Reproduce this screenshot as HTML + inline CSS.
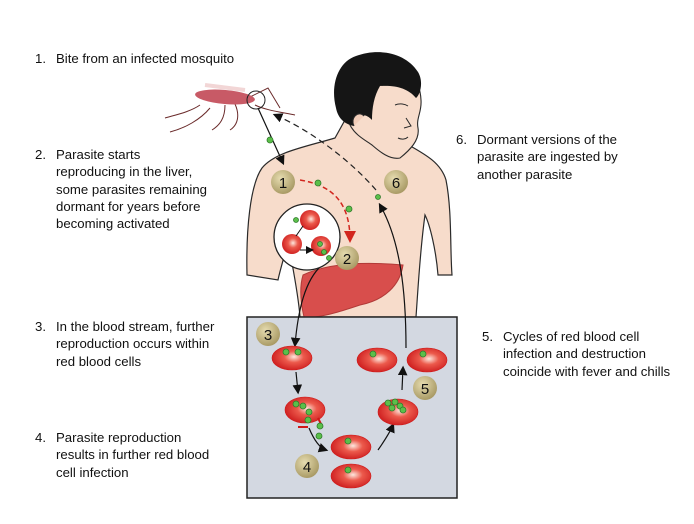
<!DOCTYPE html>
<html><head><meta charset="utf-8"><style>
body{margin:0;width:694px;height:524px;background:#fff;position:relative;overflow:hidden;font-family:"Liberation Sans",sans-serif;font-size:13.2px;color:#111}
.t{position:absolute;line-height:17.3px;white-space:nowrap}
.n{position:absolute;left:-21px}
svg{position:absolute;left:0;top:0}
</style></head><body>
<svg width="694" height="524" viewBox="0 0 694 524">
<defs>
<radialGradient id="rbc" cx="0.55" cy="0.45" r="0.6"><stop offset="0" stop-color="#fde8de"/><stop offset="0.4" stop-color="#ec5a4c"/><stop offset="1" stop-color="#cc1a1c"/></radialGradient>
<radialGradient id="bdg" cx="0.4" cy="0.35" r="0.7"><stop offset="0" stop-color="#e6dcb0"/><stop offset="1" stop-color="#a59660"/></radialGradient>
<marker id="ah" markerWidth="8" markerHeight="8" refX="6" refY="4" orient="auto"><path d="M0,0 L8,4 L0,8 Z" fill="#111"/></marker>
<marker id="ahr" markerWidth="8" markerHeight="8" refX="6" refY="4" orient="auto"><path d="M0,0 L8,4 L0,8 Z" fill="#d2261e"/></marker>
</defs>
<path d="M247,275 C246,230 250,185 262,168 C275,152 305,147 335,138 L345,120 L400,140 C420,152 440,160 446,180 C452,210 450,250 452,275 L438,275 C436,250 430,225 425,215 C420,250 418,290 416,317 L300,317 C298,290 290,255 288,240 C285,255 280,270 278,280 Z" fill="#f7dccb" stroke="#2a2a2a" stroke-width="1.2"/>
<path d="M345,100 C345,80 360,62 385,62 C405,62 420,78 421,100 C422,112 416,118 418,128 C420,140 410,150 400,158 C390,160 380,152 372,145 C365,140 355,135 350,125 Z" fill="#f7dccb" stroke="#2a2a2a" stroke-width="1.1"/>
<path d="M336,108 C330,85 338,62 356,56 C378,48 405,52 418,72 C424,82 420,95 416,98 C408,88 395,85 380,86 C374,96 372,108 372,120 C365,112 356,114 354,126 C344,124 338,118 336,108 Z" fill="#151515"/>
<path d="M354,126 C350,118 358,110 364,116" fill="#f1cdb9" stroke="#2a2a2a"/>
<path d="M395,105 C400,103 405,104 408,106 M406,118 L411,126 L404,128 M398,138 C402,140 406,139 408,137" fill="none" stroke="#2a2a2a" stroke-width="1"/>
<path d="M303,275 C330,262 370,262 403,265 C400,285 385,300 360,305 C345,310 330,315 315,317 L304,317 C300,300 300,285 303,275 Z" fill="#d84e4c" stroke="#b23a38"/>
<rect x="247" y="317" width="210" height="181" fill="#d3d8e1" stroke="#222" stroke-width="1.5"/>
<g stroke="#6a2a2a" stroke-width="1" fill="none">
<path d="M200,105 C190,112 175,115 165,118"/><path d="M210,108 C200,120 185,128 170,132"/>
<path d="M225,105 C225,118 220,125 212,130"/><path d="M235,104 C240,115 238,125 230,130"/>
<path d="M248,98 L268,88 L280,108"/><path d="M255,105 C265,110 280,112 295,115"/>
</g>
<ellipse cx="225" cy="97" rx="30" ry="7" fill="#c85a66" transform="rotate(5 225 97)"/>
<path d="M205,85 L245,90" stroke="#f2d6d6" stroke-width="4"/>
<circle cx="256" cy="100" r="9" fill="none" stroke="#222"/>
<path d="M258,108 L283,163" stroke="#111" stroke-width="1.2" fill="none" marker-end="url(#ah)"/>
<path d="M376,190 C350,160 310,130 275,115" stroke="#222" stroke-width="1.2" stroke-dasharray="6,4" fill="none" marker-end="url(#ah)"/>
<path d="M300,180 C330,185 350,200 350,240" stroke="#d2261e" stroke-width="1.5" stroke-dasharray="5,3" fill="none" marker-end="url(#ahr)"/>
<path d="M406,348 C406,290 400,240 380,205" stroke="#111" stroke-width="1.2" fill="none" marker-end="url(#ah)"/>
<path d="M322,265 C305,280 298,310 295,345" stroke="#111" stroke-width="1.2" fill="none" marker-end="url(#ah)"/>
<path d="M296,372 L298,392" stroke="#111" stroke-width="1.2" marker-end="url(#ah)"/>
<path d="M309,428 C314,440 320,448 326,450" stroke="#111" stroke-width="1.2" fill="none" marker-end="url(#ah)"/>
<path d="M378,450 C385,440 390,432 393,425" stroke="#111" stroke-width="1.2" fill="none" marker-end="url(#ah)"/>
<path d="M402,390 L403,368" stroke="#111" stroke-width="1.2" marker-end="url(#ah)"/>
<circle cx="307" cy="237" r="33" fill="#fff" stroke="#222" stroke-width="1.3"/>
<circle cx="310" cy="220" r="10" fill="url(#rbc)"/><circle cx="292" cy="244" r="10" fill="url(#rbc)"/><circle cx="321" cy="246" r="10" fill="url(#rbc)"/>
<path d="M303,226 L296,236 M300,250 L312,250" stroke="#111" stroke-width="1" marker-end="url(#ah)"/>
<g fill="#5bbf4a" stroke="#2f7a2a" stroke-width="0.8">
<circle cx="270" cy="140" r="3"/><circle cx="318" cy="183" r="3"/><circle cx="349" cy="209" r="3"/><circle cx="378" cy="197" r="2.5"/>
<circle cx="296" cy="220" r="2.5"/><circle cx="324" cy="252" r="2.5"/><circle cx="329" cy="258" r="2.5"/><circle cx="320" cy="244" r="2.5"/>
</g>
<g fill="url(#rbc)" stroke="#d01818" stroke-width="0.6">
<ellipse cx="292" cy="358" rx="20" ry="12"/><ellipse cx="377" cy="360" rx="20" ry="12"/><ellipse cx="427" cy="360" rx="20" ry="12"/>
<ellipse cx="305" cy="410" rx="20" ry="13"/><ellipse cx="398" cy="412" rx="20" ry="13"/>
<ellipse cx="351" cy="447" rx="20" ry="12"/><ellipse cx="351" cy="476" rx="20" ry="12"/>
</g>
<path d="M298,427 L308,427 M318,418 L322,426" stroke="#d01818" stroke-width="2"/>
<g fill="#5bbf4a" stroke="#2f7a2a" stroke-width="0.8">
<circle cx="286" cy="352" r="3"/><circle cx="298" cy="352" r="3"/><circle cx="373" cy="354" r="3"/><circle cx="423" cy="354" r="3"/>
<circle cx="296" cy="404" r="3"/><circle cx="303" cy="406" r="3"/><circle cx="309" cy="412" r="3"/><circle cx="308" cy="420" r="3"/><circle cx="320" cy="426" r="3"/><circle cx="319" cy="436" r="3"/>
<circle cx="395" cy="402" r="3"/><circle cx="400" cy="406" r="3"/><circle cx="392" cy="408" r="3"/><circle cx="403" cy="410" r="3"/><circle cx="388" cy="403" r="3"/>
<circle cx="348" cy="441" r="3"/><circle cx="348" cy="470" r="3"/>
</g>
<g fill="url(#bdg)"><circle cx="283" cy="182" r="12"/><circle cx="396" cy="182" r="12"/><circle cx="347" cy="258" r="12"/><circle cx="268" cy="334" r="12"/><circle cx="307" cy="466" r="12"/><circle cx="425" cy="388" r="12"/></g>
<g font-family="Liberation Sans,sans-serif" font-size="15" text-anchor="middle" fill="#111">
<text x="283" y="188">1</text><text x="396" y="188">6</text><text x="347" y="264">2</text><text x="268" y="340">3</text><text x="307" y="472">4</text><text x="425" y="394">5</text></g>
</svg>
<div class="t" style="left:56px;top:50px"><span class="n">1.</span>Bite from an infected mosquito</div>
<div class="t" style="left:56px;top:146px"><span class="n">2.</span>Parasite starts<br>reproducing in the liver,<br>some parasites remaining<br>dormant for years before<br>becoming activated</div>
<div class="t" style="left:56px;top:318px"><span class="n">3.</span>In the blood stream, further<br>reproduction occurs within<br>red blood cells</div>
<div class="t" style="left:56px;top:429px"><span class="n">4.</span>Parasite reproduction<br>results in further red blood<br>cell infection</div>
<div class="t" style="left:477px;top:131px"><span class="n">6.</span>Dormant versions of the<br>parasite are ingested by<br>another parasite</div>
<div class="t" style="left:503px;top:328px"><span class="n">5.</span>Cycles of red blood cell<br>infection and destruction<br>coincide with fever and chills</div>
</body></html>
